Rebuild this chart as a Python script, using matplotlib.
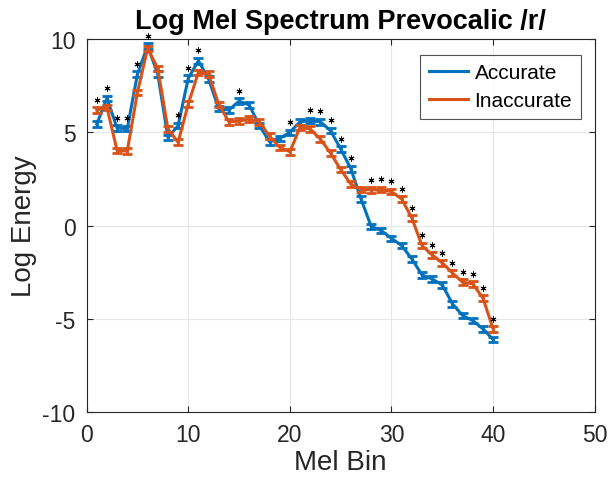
import matplotlib
matplotlib.use("Agg")
import matplotlib.pyplot as plt
import numpy as np
from matplotlib.lines import Line2D

plt.rcParams['font.family'] = ['Liberation Sans', 'DejaVu Sans']
plt.rcParams['axes.unicode_minus'] = False

mel_bin = list(range(1, 41))
accurate = [5.45, 6.82, 5.23, 5.2, 8.12, 9.64, 8.12, 4.73, 5.36, 7.9,
            8.84, 7.86, 6.27, 6.2, 6.67, 6.47, 5.36, 4.5, 4.68, 5.0,
            5.57, 5.63, 5.57, 5.09, 4.11, 3.05, 1.43, -0.04, -0.27, -0.68,
            -1.07, -1.78, -2.64, -2.86, -3.18, -4.19, -4.82, -5.09, -5.53, -6.1]
inaccurate = [6.2, 6.34, 4.02, 4.0, 7.14, 9.5, 8.43, 5.18, 4.47, 6.52,
              8.22, 8.12, 6.5, 5.57, 5.6, 5.73, 5.57, 4.79, 4.2, 3.96,
              5.27, 5.18, 4.64, 3.89, 3.0, 2.23, 1.94, 1.92, 1.93, 1.82,
              1.43, 0.41, -1.07, -1.57, -2.0, -2.54, -3.03, -3.12, -3.89, -5.53]
acc_err = [0.15] * 40
inacc_err = [0.15] * 40
significant = [1, 2, 3, 4, 5, 6, 9, 10, 11, 15, 20, 22, 23, 24, 25, 26,
               28, 29, 30, 31, 32, 33, 34, 35, 36, 37, 38, 39, 40]

blue = '#0072BD'
orange = '#D95319'
dark = '#262626'

fig = plt.figure(figsize=(6.10, 4.89), dpi=100)
ax = fig.add_axes([0.142, 0.155, 0.833, 0.763])

ax.errorbar(mel_bin, accurate, yerr=acc_err, color=blue, lw=2.2,
            capsize=3.5, capthick=2, elinewidth=2, zorder=3)
ax.errorbar(mel_bin, inaccurate, yerr=inacc_err, color=orange, lw=2.2,
            capsize=3.5, capthick=2, elinewidth=2, zorder=4)

acc = np.array(accurate)
inacc = np.array(inaccurate)
sig_idx = np.array(significant) - 1
star_y = np.maximum(acc[sig_idx], inacc[sig_idx]) + 0.55
ax.plot(significant, star_y, linestyle='none', marker=(6, 2, 0),
        markersize=4.2, markeredgewidth=0.7, color='black', zorder=5,
        clip_on=False)

ax.set_xlim(0, 50)
ax.set_ylim(-10, 10)
ax.set_xticks([0, 10, 20, 30, 40, 50])
ax.set_yticks([-10, -5, 0, 5, 10])
ax.grid(True, color='#e6e6e6', lw=0.8)
ax.set_axisbelow(True)
for s in ax.spines.values():
    s.set_color(dark)
    s.set_linewidth(0.8)
ax.tick_params(direction='in', length=4, labelsize=16.5, colors=dark,
               top=True, right=True, labeltop=False, labelright=False)
ax.tick_params(axis='x', pad=8)
ax.tick_params(axis='y', pad=8)

ax.set_xlabel('Mel Bin', fontsize=20, color=dark, labelpad=2)
ax.set_ylabel('Log Energy', fontsize=20, color=dark, labelpad=4)
ax.set_title('Log Mel Spectrum Prevocalic /r/', fontsize=19.5, fontweight='bold',
             color='black', pad=8)

h2 = [Line2D([], [], color=blue, lw=2.2), Line2D([], [], color=orange, lw=2.2)]
leg = ax.legend(h2, ['Accurate', 'Inaccurate'], loc='upper right',
                bbox_to_anchor=(0.972, 0.958),
                fontsize=15, frameon=True, fancybox=False, edgecolor=dark,
                handlelength=1.9, handletextpad=0.3, borderpad=0.4,
                labelspacing=0.45, borderaxespad=0)
leg.get_frame().set_linewidth(0.8)

fig.savefig('out.png', dpi=100)
